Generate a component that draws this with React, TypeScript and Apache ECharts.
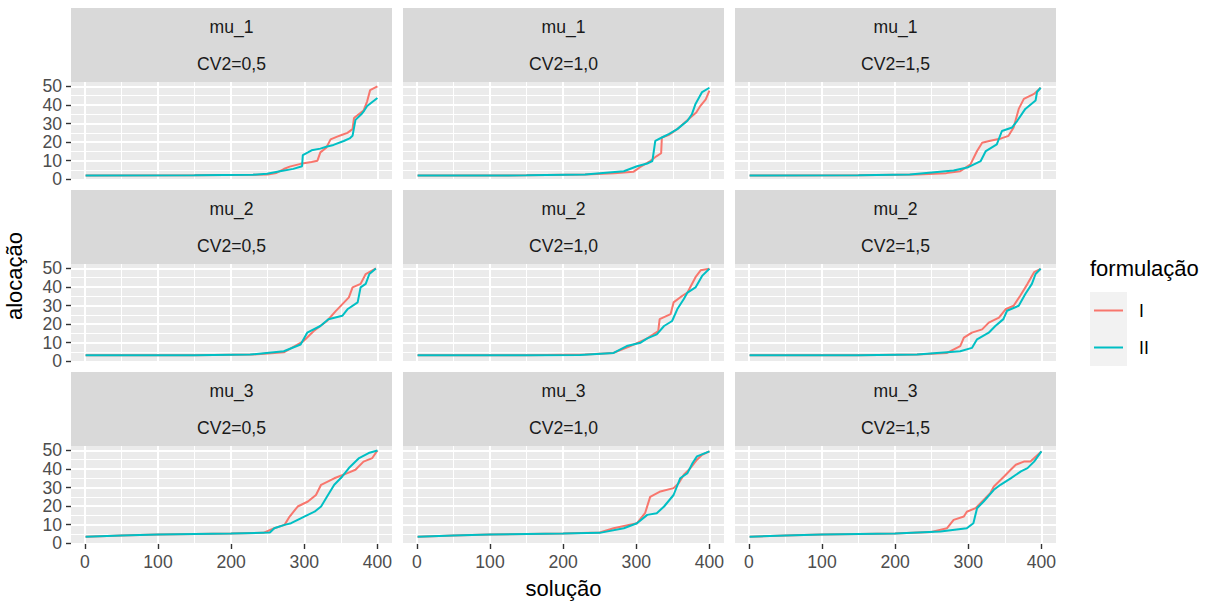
import React, { useEffect, useRef } from "react";
import * as echarts from "echarts";

// ---------- data ----------
const muLabels = ["mu_1", "mu_2", "mu_3"];
const cvLabels = ["CV2=0,5", "CV2=1,0", "CV2=1,5"];
const xTicks = [0, 100, 200, 300, 400];
const yTicks = [0, 10, 20, 30, 40, 50];
const seriesNames = ["I", "II"];
const seriesColors = ["#F8766D", "#00BFC4"];
const xTitle = "solução";
const yTitle = "alocação";
const legendTitle = "formulação";

const mu1_cv05_I = [[1, 2], [150, 2.1], [230, 2.4], [250, 2.6], [262, 3.4], [272, 5.5], [280, 6.8], [295, 8.3], [310, 9.3], [318, 10], [322, 14.5], [330, 17], [336, 21.5], [345, 23], [352, 24], [359, 25], [366, 27], [368, 33], [381, 37], [386, 42], [390, 48], [400, 50]];
const mu1_cv05_II = [[1, 2], [150, 2.1], [230, 2.4], [249, 3], [265, 4.2], [285, 5.6], [297, 7], [298, 13], [305, 14.5], [310, 15.6], [322, 16.5], [330, 17.5], [340, 18.5], [354, 20.6], [362, 22], [366, 23.4], [370, 32], [378, 35], [382, 37], [386, 39.5], [400, 43.8]];
const mu1_cv10_I = [[1, 2], [150, 2.1], [230, 2.5], [270, 3.3], [296, 4], [305, 6.5], [319, 9.8], [328, 12.5], [334, 14], [335, 22.5], [345, 24], [356, 27], [374, 33.3], [382, 36], [388, 39.7], [395, 43], [400, 47.8]];
const mu1_cv10_II = [[1, 2], [150, 2.1], [230, 2.5], [283, 4.3], [301, 7], [315, 8.5], [322, 9.8], [326, 20.7], [335, 22.5], [345, 24.5], [356, 27], [370, 31.5], [376, 35], [381, 40.6], [390, 47], [400, 49.3]];
const mu1_cv15_I = [[1, 2], [150, 2.1], [230, 2.5], [270, 3.3], [289, 4.3], [303, 8], [312, 15.2], [319, 19.7], [330, 20.7], [345, 22], [355, 23.4], [362, 27.9], [369, 37.9], [376, 43.3], [390, 46], [399, 49.3]];
const mu1_cv15_II = [[1, 2], [150, 2.1], [220, 2.5], [280, 4.7], [300, 6.5], [317, 9.8], [324, 15.2], [339, 18.8], [346, 26], [360, 27.9], [367, 31.5], [378, 37.9], [392, 42.4], [394, 47], [399, 49.3]];

const mu2_cv05_I = [[1, 3.2], [150, 3.3], [230, 3.6], [255, 4.3], [272, 4.8], [299, 10.9], [313, 16.3], [331, 21.7], [343, 27], [361, 34.4], [366, 39.8], [377, 41.7], [384, 47], [398, 50]];
const mu2_cv05_II = [[1, 3.2], [150, 3.3], [226, 3.6], [272, 5.4], [295, 9], [304, 15.4], [322, 19], [333, 22.6], [352, 24.5], [359, 28], [373, 31.7], [377, 39.8], [384, 41.7], [389, 47], [398, 50]];
const mu2_cv10_I = [[1, 3.2], [150, 3.3], [230, 3.6], [269, 4.5], [292, 8.2], [315, 12.3], [330, 16.3], [332, 22.7], [347, 25.4], [351, 31.7], [363, 35.3], [370, 37], [381, 45.3], [388, 49], [400, 49.8]];
const mu2_cv10_II = [[1, 3.2], [150, 3.3], [223, 3.4], [269, 4.5], [287, 8.2], [306, 10], [315, 12.3], [328, 14.5], [338, 19], [349, 21.7], [356, 28], [365, 33.5], [370, 37], [381, 39.8], [390, 46], [400, 49.8]];
const mu2_cv15_I = [[1, 3.2], [150, 3.3], [230, 3.6], [271, 4.5], [289, 8.2], [294, 12.7], [305, 15.4], [319, 17.2], [328, 20.8], [342, 23.5], [351, 28], [362, 29.9], [371, 35.3], [381, 41.7], [390, 48], [399, 49.8]];
const mu2_cv15_II = [[1, 3.2], [150, 3.3], [230, 3.6], [289, 5.4], [305, 7.2], [312, 11.8], [328, 15.4], [337, 19], [348, 22.7], [353, 27.2], [369, 29.9], [378, 36.2], [387, 41.7], [392, 47], [399, 49.8]];

const mu3_cv05_I = [[1, 3.5], [50, 4.2], [100, 4.7], [150, 5], [200, 5.2], [244, 5.6], [259, 8.1], [273, 9.9], [280, 14.4], [291, 19.8], [305, 22.5], [316, 26], [323, 31.5], [341, 35], [359, 37.8], [370, 39.6], [381, 44], [393, 45.9], [400, 50]];
const mu3_cv05_II = [[1, 3.5], [50, 4.2], [100, 4.7], [150, 5], [200, 5.2], [253, 5.8], [259, 8.1], [273, 9.9], [282, 10.8], [291, 12.6], [300, 14.4], [314, 17], [323, 19.8], [331, 25], [341, 31.5], [352, 36], [361, 40.5], [375, 45.9], [388, 48.6], [400, 50]];
const mu3_cv10_I = [[1, 3.5], [50, 4.2], [100, 4.7], [150, 5], [200, 5.2], [250, 5.8], [269, 8.1], [301, 10.8], [312, 16.2], [319, 25], [333, 27.9], [351, 29.7], [358, 32.4], [365, 36.9], [374, 40.5], [383, 45], [390, 47.7], [400, 49.5]];
const mu3_cv10_II = [[1, 3.5], [50, 4.2], [100, 4.7], [150, 5], [200, 5.2], [250, 5.6], [283, 8.1], [301, 10.8], [315, 15.3], [328, 16.2], [338, 19.8], [351, 26], [360, 35], [370, 37.8], [377, 43.2], [383, 46.8], [400, 49.5]];
const mu3_cv15_I = [[1, 3.5], [50, 4.2], [100, 4.7], [150, 5], [200, 5.2], [248, 6], [271, 8.1], [280, 12.6], [294, 14.4], [298, 17], [310, 18.9], [330, 27], [335, 30.6], [349, 36], [358, 39.6], [365, 42.3], [376, 44], [385, 44], [400, 49.5]];
const mu3_cv15_II = [[1, 3.5], [50, 4.2], [100, 4.7], [150, 5], [200, 5.2], [262, 6.3], [298, 8.1], [307, 10.8], [312, 18.9], [321, 22.5], [335, 28.8], [344, 31.5], [358, 35], [372, 38.7], [381, 40.5], [390, 44], [400, 49.5]];

const panelData = [
  [[mu1_cv05_I, mu1_cv05_II], [mu1_cv10_I, mu1_cv10_II], [mu1_cv15_I, mu1_cv15_II]],
  [[mu2_cv05_I, mu2_cv05_II], [mu2_cv10_I, mu2_cv10_II], [mu2_cv15_I, mu2_cv15_II]],
  [[mu3_cv05_I, mu3_cv05_II], [mu3_cv10_I, mu3_cv10_II], [mu3_cv15_I, mu3_cv15_II]],
];

// ---------- layout ----------
const FONT = '"Liberation Sans", Arial, Helvetica, sans-serif';
const PANEL_LEFT = [71, 403, 735];
const PANEL_W = 321;
const STRIP_TOP = [8, 190, 372];
const STRIP_H = 74;
const PANEL_H = 98;
const SMALL = 17.6;
const BIG = 22;

function buildOption() {
  const pts: number[][] = [];
  panelData.forEach((row) => row.forEach((pair) => pair.forEach((s) => s.forEach((p) => pts.push(p)))));
  const xs = pts.map((p) => p[0]);
  const ys = pts.map((p) => p[1]);
  const xMinD = Math.min(...xs), xMaxD = Math.max(...xs);
  const yMinD = Math.min(...ys), yMaxD = Math.max(...ys);
  const xLo = xMinD - 0.05 * (xMaxD - xMinD), xHi = xMaxD + 0.05 * (xMaxD - xMinD);
  const yLo = yMinD - 0.05 * (yMaxD - yMinD), yHi = yMaxD + 0.05 * (yMaxD - yMinD);
  const xT0 = xTicks[0], xT1 = xTicks[xTicks.length - 1], xInt = xTicks[1] - xTicks[0];
  const yT0 = yTicks[0], yT1 = yTicks[yTicks.length - 1], yInt = yTicks[1] - yTicks[0];

  const grid: any[] = [], xAxis: any[] = [], yAxis: any[] = [], series: any[] = [], graphic: any[] = [];

  for (let r = 0; r < 3; r++) {
    for (let c = 0; c < 3; c++) {
      const i = r * 3 + c;
      const L = PANEL_LEFT[c];
      const sTop = STRIP_TOP[r];
      const T = sTop + STRIP_H;
      // panel grid (background + data)
      grid.push({ left: L, top: T, width: PANEL_W, height: PANEL_H, show: true, backgroundColor: "#EBEBEB", borderWidth: 0, outerBoundsMode: "none" });
      xAxis.push({ type: "value", gridIndex: 3 * i, min: xLo, max: xHi, show: false });
      yAxis.push({ type: "value", gridIndex: 3 * i, min: yLo, max: yHi, show: false });
      // vertical grid / x axis
      const gx = L + ((xT0 - xLo) / (xHi - xLo)) * PANEL_W;
      const gw = ((xT1 - xT0) / (xHi - xLo)) * PANEL_W;
      grid.push({ left: gx, top: T, width: gw, height: PANEL_H, show: false, outerBoundsMode: "none" });
      xAxis.push({
        type: "value", gridIndex: 3 * i + 1, min: xT0, max: xT1, interval: xInt, position: "bottom",
        axisLine: { show: false },
        axisTick: { show: r === 2, length: 5, lineStyle: { color: "#333333", width: 1.4 } },
        axisLabel: { show: r === 2, margin: 9, color: "#4D4D4D", fontSize: SMALL, fontFamily: FONT, showMinLabel: true, showMaxLabel: true },
        splitLine: { show: true, lineStyle: { color: "#FFFFFF", width: 2 } },
        minorTick: { show: false, splitNumber: 2 },
        minorSplitLine: { show: true, lineStyle: { color: "#FFFFFF", width: 1 } },
      });
      yAxis.push({ type: "value", gridIndex: 3 * i + 1, min: 0, max: 1, show: false });
      // horizontal grid / y axis
      const gy = T + ((yHi - yT1) / (yHi - yLo)) * PANEL_H;
      const gh = ((yT1 - yT0) / (yHi - yLo)) * PANEL_H;
      grid.push({ left: L, top: gy, width: PANEL_W, height: gh, show: false, outerBoundsMode: "none" });
      xAxis.push({ type: "value", gridIndex: 3 * i + 2, min: 0, max: 1, show: false });
      yAxis.push({
        type: "value", gridIndex: 3 * i + 2, min: yT0, max: yT1, interval: yInt, position: "left",
        axisLine: { show: false },
        axisTick: { show: c === 0, length: 5, lineStyle: { color: "#333333", width: 1.4 } },
        axisLabel: { show: c === 0, margin: 9, color: "#4D4D4D", fontSize: SMALL, fontFamily: FONT, showMinLabel: true, showMaxLabel: true },
        splitLine: { show: true, lineStyle: { color: "#FFFFFF", width: 2 } },
        minorTick: { show: false, splitNumber: 2 },
        minorSplitLine: { show: true, lineStyle: { color: "#FFFFFF", width: 1 } },
      });
      // series
      panelData[r][c].forEach((d, k) => {
        series.push({
          type: "line", name: seriesNames[k], xAxisIndex: 3 * i, yAxisIndex: 3 * i,
          data: d, showSymbol: false, symbol: "none", clip: false,
          lineStyle: { color: seriesColors[k], width: 2 }, itemStyle: { color: seriesColors[k] },
          z: 2 + k, silent: true,
        });
      });
      // strip
      graphic.push({ type: "rect", silent: true, shape: { x: L, y: sTop, width: PANEL_W, height: STRIP_H }, style: { fill: "#D9D9D9" } });
      graphic.push({ type: "text", silent: true, x: L + PANEL_W / 2, y: sTop + 19, style: { text: muLabels[r], fill: "#1A1A1A", font: `${SMALL}px ${FONT}`, align: "center", verticalAlign: "middle", textAlign: "center", textVerticalAlign: "middle" } });
      graphic.push({ type: "text", silent: true, x: L + PANEL_W / 2, y: sTop + 56, style: { text: cvLabels[c], fill: "#1A1A1A", font: `${SMALL}px ${FONT}`, align: "center", verticalAlign: "middle", textAlign: "center", textVerticalAlign: "middle" } });
    }
  }

  // axis titles
  const plotLeft = PANEL_LEFT[0], plotRight = PANEL_LEFT[2] + PANEL_W;
  graphic.push({ type: "text", silent: true, x: (plotLeft + plotRight) / 2, y: 588, style: { text: xTitle, fill: "#000000", font: `${BIG}px ${FONT}`, align: "center", verticalAlign: "middle", textAlign: "center", textVerticalAlign: "middle" } });
  graphic.push({ type: "text", silent: true, x: 14, y: (STRIP_TOP[0] + STRIP_TOP[2] + STRIP_H + PANEL_H) / 2, rotation: Math.PI / 2, style: { text: yTitle, fill: "#000000", font: `${BIG}px ${FONT}`, align: "center", verticalAlign: "middle", textAlign: "center", textVerticalAlign: "middle" } });

  // legend
  const lx = 1090, ly = 292, key = 37;
  graphic.push({ type: "text", silent: true, x: lx, y: 268, style: { text: legendTitle, fill: "#000000", font: `${BIG}px ${FONT}`, align: "left", verticalAlign: "middle", textAlign: "left", textVerticalAlign: "middle" } });
  seriesNames.forEach((n, k) => {
    const y0 = ly + k * key;
    graphic.push({ type: "rect", silent: true, shape: { x: lx, y: y0, width: key, height: key }, style: { fill: "#F2F2F2" } });
    graphic.push({ type: "line", silent: true, shape: { x1: lx + 4, y1: y0 + key / 2, x2: lx + key - 4, y2: y0 + key / 2 }, style: { stroke: seriesColors[k], lineWidth: 2 } });
    graphic.push({ type: "text", silent: true, x: lx + key + 12, y: y0 + key / 2, style: { text: n, fill: "#000000", font: `${SMALL}px ${FONT}`, align: "left", verticalAlign: "middle", textAlign: "left", textVerticalAlign: "middle" } });
  });

  return {
    animation: false,
    backgroundColor: "#FFFFFF",
    textStyle: { fontFamily: FONT },
    grid, xAxis, yAxis, series, graphic,
  };
}

export default function App() {
  const ref = useRef<HTMLDivElement>(null);
  useEffect(() => {
    if (!ref.current) return;
    const chart = echarts.init(ref.current, null, { renderer: "svg" });
    chart.setOption(buildOption() as any);
    return () => chart.dispose();
  }, []);
  return <div ref={ref} style={{ position: "absolute", left: 0, top: 0, width: 1218, height: 602 }} />;
}
